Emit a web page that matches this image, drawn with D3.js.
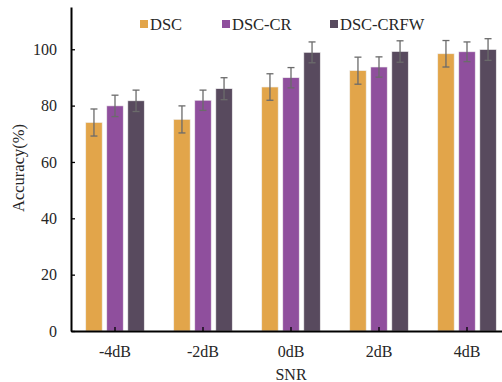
<!DOCTYPE html>
<html>
<head>
<meta charset="utf-8">
<script src="https://cdn.jsdelivr.net/npm/d3@7"></script>
<style>
  body { margin: 0; background: #fff; }
  svg text { font-family: "Liberation Serif", "DejaVu Serif", serif; fill: #262626; }
</style>
</head>
<body>
<script>
// data
const categories = ['-4dB', '-2dB', '0dB', '2dB', '4dB'];
const seriesNames = ['DSC', 'DSC-CR', 'DSC-CRFW'];
const dsc = [74.0, 75.1, 86.6, 92.4, 98.4];
const dscErr = [4.8, 4.8, 4.7, 4.8, 4.7];
const dscCr = [79.9, 81.9, 89.9, 93.7, 99.1];
const dscCrErr = [3.8, 3.6, 3.6, 3.6, 3.5];
const dscCrfw = [81.7, 86.0, 98.9, 99.2, 99.9];
const dscCrfwErr = [3.8, 3.9, 3.7, 3.8, 3.85];
const yTicks = [0, 20, 40, 60, 80, 100];

const colors = ['#e2a54a', '#8f4f9d', '#584a5e'];

// set variables
const w = 502;
const h = 382;
const padL = 71, padT = 7, baseY = 331;

const svg = d3.select('body').append('svg')
    .attr('width', w)
    .attr('height', h);

const xScale = d3.scaleBand().domain(categories).range([padL, padL + 88 * 5]);
const yScale = d3.scaleLinear().domain([0, 115]).range([baseY, padT]);
const inner = d3.scaleBand().domain(seriesNames).range([0, 58.5]).paddingInner(0.22).paddingOuter(0);

const series = [
    {name: 'DSC', vals: dsc, errs: dscErr},
    {name: 'DSC-CR', vals: dscCr, errs: dscCrErr},
    {name: 'DSC-CRFW', vals: dscCrfw, errs: dscCrfwErr}
];

const rows = [];
series.forEach((s, si) => {
    categories.forEach((c, ci) => {
        rows.push({cat: c, name: s.name, v: s.vals[ci], e: s.errs[ci], color: colors[si]});
    });
});

const groupOffset = (xScale.bandwidth() - 58.5) / 2;

// bars
svg.selectAll('rect.bar')
    .data(rows)
    .enter()
    .append('rect')
    .attr('class', 'bar')
    .attr('x', d => xScale(d.cat) + groupOffset + inner(d.name))
    .attr('y', d => yScale(d.v))
    .attr('width', inner.bandwidth())
    .attr('height', d => baseY - yScale(d.v))
    .attr('fill', d => d.color)
    .attr('stroke', '#eee')
    .attr('stroke-width', 0.6);

// error bars
const eb = svg.selectAll('g.err')
    .data(rows)
    .enter()
    .append('g')
    .attr('class', 'err')
    .attr('stroke', '#6b6b6b')
    .attr('stroke-width', 1.3);

const cx = d => xScale(d.cat) + groupOffset + inner(d.name) + inner.bandwidth() / 2;

eb.append('line')
    .attr('x1', cx).attr('x2', cx)
    .attr('y1', d => yScale(d.v + d.e))
    .attr('y2', d => yScale(d.v - d.e));
eb.append('line')
    .attr('x1', d => cx(d) - 3.5).attr('x2', d => cx(d) + 3.5)
    .attr('y1', d => yScale(d.v + d.e))
    .attr('y2', d => yScale(d.v + d.e));
eb.append('line')
    .attr('x1', d => cx(d) - 3.5).attr('x2', d => cx(d) + 3.5)
    .attr('y1', d => yScale(d.v - d.e))
    .attr('y2', d => yScale(d.v - d.e));

// axes
const yAxis = d3.axisLeft(yScale).tickValues(yTicks).tickSize(5).tickSizeOuter(0);
const xAxis = d3.axisBottom(xScale).tickSize(4).tickSizeOuter(0);

const gy = svg.append('g')
    .attr('transform', `translate(${padL},0)`)
    .call(yAxis);
gy.select('.domain').attr('stroke', '#000').attr('stroke-width', 2);
gy.selectAll('.tick line').attr('stroke', '#000').attr('x1', 0).attr('x2', 4).attr('stroke-width', 1.3);
gy.selectAll('.tick text').attr('x', -14).style('font-size', '16px').style('font-family', '"Liberation Serif", serif').attr('fill', '#262626');

const gx = svg.append('g')
    .attr('transform', `translate(0,${baseY})`)
    .call(xAxis);
gx.select('.domain').attr('stroke', '#000').attr('stroke-width', 2);
gx.selectAll('.tick line').attr('stroke', '#000').attr('y1', 0).attr('y2', -4).attr('stroke-width', 1.3);
gx.selectAll('.tick text').attr('y', 15).style('font-size', '16px').style('font-family', '"Liberation Serif", serif').attr('fill', '#262626');

// axis titles
svg.append('text')
    .attr('x', 291)
    .attr('y', 380)
    .attr('text-anchor', 'middle')
    .style('font-size', '16px')
    .text('SNR');

svg.append('text')
    .attr('transform', 'translate(24,168) rotate(-90)')
    .attr('text-anchor', 'middle')
    .style('font-size', '16.5px')
    .text('Accuracy(%)');

// legend
const legendX = [140, 222, 330];
const lg = svg.selectAll('g.legend')
    .data(seriesNames)
    .enter()
    .append('g')
    .attr('class', 'legend')
    .attr('transform', (d, i) => `translate(${legendX[i]},20)`);
lg.append('rect')
    .attr('width', 8).attr('height', 8)
    .attr('fill', (d, i) => colors[i]);
lg.append('text')
    .attr('x', 10)
    .attr('y', 10)
    .style('font-size', '16.5px')
    .text(d => d);
</script>
</body>
</html>
